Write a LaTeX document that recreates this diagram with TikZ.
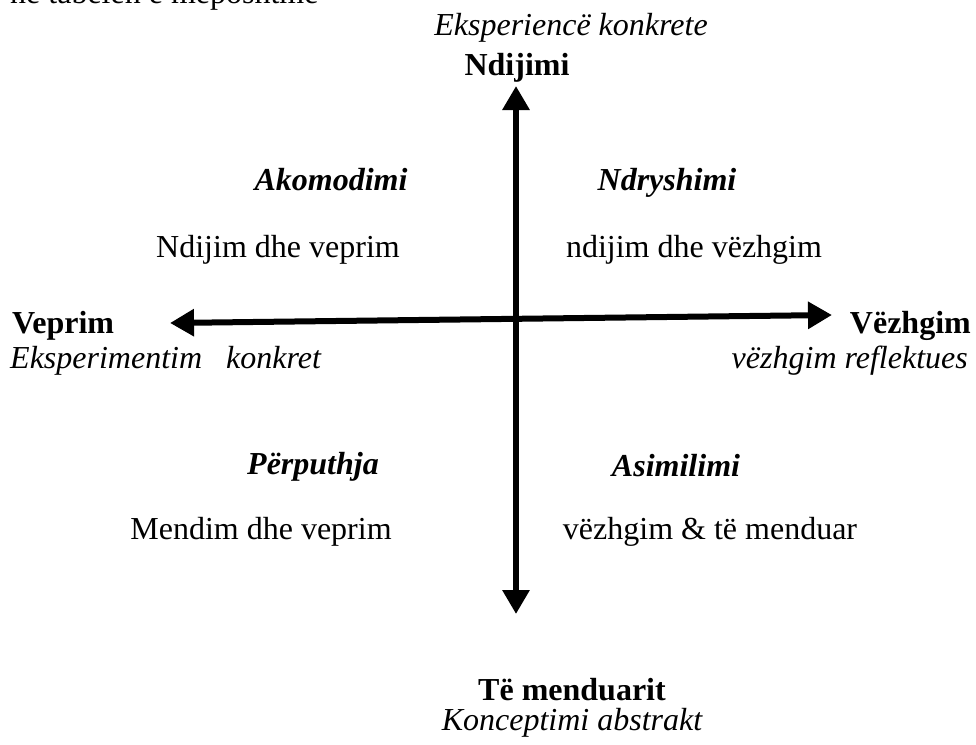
\documentclass[tikz,border=0pt]{standalone}
\usepackage{fontspec}
\setmainfont{Liberation Serif}
\usetikzlibrary{arrows.meta}
\begin{document}
\begin{tikzpicture}[x=1pt,y=-1pt,
  txt/.style={inner sep=0pt,font=\fontsize{32}{38}\selectfont},
  bf/.style={txt,font=\fontsize{32}{38}\selectfont\bfseries},
  it/.style={txt,font=\fontsize{32}{38}\selectfont\itshape},
  bi/.style={txt,font=\fontsize{32}{38}\selectfont\bfseries\itshape},
  axis/.style={line width=6pt,{Triangle[width=26pt,length=24pt]}-{Triangle[width=26pt,length=24pt]}}]
\path[use as bounding box] (0,0) rectangle (976,744);
\clip (0,0) rectangle (976,744);
\fill[white] (0,0) rectangle (976,744);
\node[txt,anchor=base west] (intro) at (10,3.5) {në tabelën e mëposhtme};
\node[it] (ek) at (571,28) {Eksperiencë konkrete};
\node[bf] (nd) at (517,68) {Ndijimi};
\coordinate (top) at (516,86);
\coordinate (bot) at (516,614);
\coordinate (lft) at (170,323);
\coordinate (rgt) at (832,315);
\draw[axis] (bot) -- (top);
\draw[axis] (lft) -- (rgt);
\node[bf,anchor=west] (vep) at (12,326) {Veprim};
\node[it,anchor=west] (ekk) at (10,361) {Eksperimentim\ \ \ konkret};
\node[bf,anchor=east] (vez) at (971,326) {Vëzhgim};
\node[it,anchor=east] (vr) at (968,361) {vëzhgim reflektues};
\node[bi,anchor=base] (ak) at (331,190) {Akomodimi};
\node[bi,anchor=base] (ndr) at (667,190) {Ndryshimi};
\node[txt] (ndv) at (278,250) {Ndijim dhe veprim};
\node[txt] (ndvz) at (694,250) {ndijim dhe vëzhgim};
\node[bi,anchor=base] (per) at (313,474) {Përputhja};
\node[bi,anchor=base] (as) at (676,476) {Asimilimi};
\node[txt] (mdv) at (261,532) {Mendim dhe veprim};
\node[txt] (vtm) at (710,532) {vëzhgim \& të menduar};
\node[bf,anchor=base,text depth=0pt] (tm) at (572,700) {Të menduarit};
\node[it,anchor=base,text height=21pt] (ka) at (572,730) {Konceptimi abstrakt};
\end{tikzpicture}
\end{document}
